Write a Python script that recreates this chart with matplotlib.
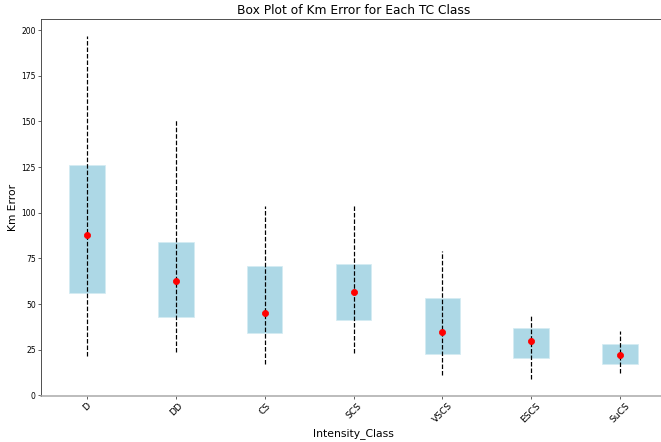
import matplotlib
matplotlib.use("Agg")
import matplotlib.pyplot as plt
import numpy as np

categories = ["D", "DD", "CS", "SCS", "VSCS", "ESCS", "SuCS"]
whisker_low = [21.5, 23.7, 17.0, 23.0, 11.0, 9.0, 12.0]
q1 = [56.0, 43.0, 34.0, 41.0, 22.6, 20.5, 17.4]
median = [87.6, 62.8, 45.0, 56.7, 34.7, 29.8, 22.2]
q3 = [126.0, 84.0, 71.0, 72.0, 53.4, 36.9, 28.0]
whisker_high = [196.7, 151.5, 103.6, 104.0, 79.0, 44.0, 35.2]

DPI = 55
fig = plt.figure(figsize=(661 / DPI, 442 / DPI), dpi=DPI)
ax = fig.add_axes([41 / 661, 46 / 442, 625 / 661, 377 / 442])

x = np.arange(len(categories))
ax.bar(x, np.array(q3) - np.array(q1), bottom=q1, width=0.4,
       color="lightblue", edgecolor="#d4ecf3", linewidth=1.0, zorder=2)
ax.vlines(x, whisker_low, whisker_high, colors="black", linestyles="dashed",
          linewidth=1.6, zorder=3)
ax.plot(x, median, linestyle="none", marker="o", color="red", markersize=8, zorder=4)

ax.set_xlim(-0.52, 6.52)
ax.set_xticks(x)
ax.set_xticklabels(categories, rotation=45, fontsize=12)
ax.tick_params(axis="y", labelsize=10)
ax.set_xlabel("Intensity_Class", fontsize=14)
ax.set_ylabel("Km Error", fontsize=14)
ax.set_title("Box Plot of Km Error for Each TC Class", fontsize=16)
ax.spines["bottom"].set_color("#aaaaaa")
ax.spines["bottom"].set_linewidth(2.0)
for s in ["left", "top", "right"]:
    ax.spines[s].set_color("#444444")
    ax.spines[s].set_linewidth(1.2)

fig.savefig("out.png", dpi=DPI)
